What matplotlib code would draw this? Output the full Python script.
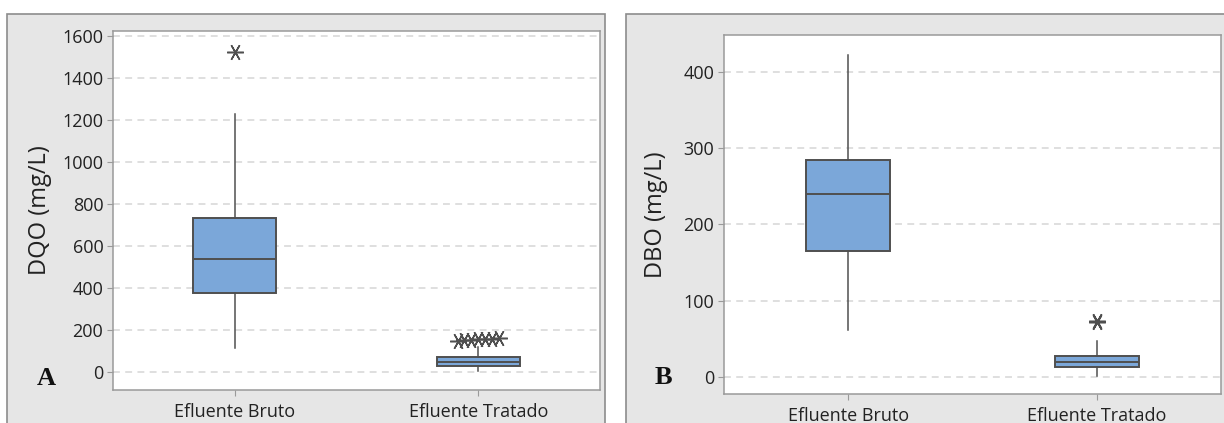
import numpy as np
import matplotlib.pyplot as plt
from matplotlib.patches import Rectangle

plt.rcParams['font.family'] = ['Open Sans', 'DejaVu Sans']

groups = ['Efluente Bruto', 'Efluente Tratado']

# DQO (mg/L): whisker low, Q1, median, Q3, whisker high
dqo_whislo = [115, 5]
dqo_q1 = [375, 28]
dqo_med = [540, 45]
dqo_q3 = [735, 72]
dqo_whishi = [1230, 120]
dqo_fliers = [[1525], [148, 150, 152, 155, 156, 158, 160]]

# DBO (mg/L)
dbo_whislo = [62, 1]
dbo_q1 = [165, 13]
dbo_med = [240, 20]
dbo_q3 = [285, 28]
dbo_whishi = [422, 48]
dbo_fliers = [[], [72, 74]]

box_color = '#7BA7D9'
edge_color = '#4F4F4F'
panel_bg = '#E6E6E6'


def make_stats(lo, q1, med, q3, hi):
    return [dict(whislo=lo[i], q1=q1[i], med=med[i], q3=q3[i], whishi=hi[i],
                 fliers=[], label=groups[i]) for i in range(len(groups))]


def draw_panel(ax, stats, fliers, ylabel, ylim, yticks, letter, lab_x, let_xy):
    ax.bxp(stats, positions=[1, 2], widths=0.34, patch_artist=True,
           showfliers=False, showcaps=False,
           boxprops=dict(facecolor=box_color, edgecolor=edge_color, linewidth=1.4),
           medianprops=dict(color=edge_color, linewidth=1.4),
           whiskerprops=dict(color=edge_color, linewidth=1.1))
    # outliers drawn as asterisks, spread sideways when several share a value
    for i, vals in enumerate(fliers):
        if not vals:
            continue
        n = len(vals)
        offs = np.linspace(-0.085, 0.085, n) if n > 2 else np.zeros(n)
        ax.plot(np.full(n, i + 1) + offs, vals, linestyle='none',
                marker=(6, 2, 90), markersize=12, color=edge_color,
                markeredgewidth=1.1)
    ax.set_xlim(0.5, 2.5)
    ax.set_ylim(*ylim)
    ax.set_yticks(yticks)
    ax.set_xticks([1, 2])
    ax.set_xticklabels(groups)
    ax.yaxis.grid(True, linestyle=(0, (4.5, 3.5)), color='#D6D6D6', linewidth=1.1)
    ax.set_axisbelow(True)
    ax.set_facecolor('white')
    for s in ax.spines.values():
        s.set_color('#9A9A9A')
        s.set_linewidth(1.1)
    ax.tick_params(axis='both', color='#9A9A9A', length=4, labelcolor='#222222')
    ax.tick_params(axis='y', labelsize=13, pad=3)
    ax.tick_params(axis='x', labelsize=13, pad=5)
    ax.set_ylabel(ylabel, fontsize=17, color='#222222')
    ax.yaxis.set_label_coords(lab_x, 0.5)
    ax.text(let_xy[0], let_xy[1], letter, transform=ax.transAxes, fontsize=19,
            fontweight='bold', family='Liberation Serif', color='#111111',
            ha='center', va='center')


fig = plt.figure(figsize=(12.24, 4.23), dpi=100)

# gray panel backgrounds with frame
for x0, x1 in [(7, 605), (626, 1232)]:
    fig.patches.append(Rectangle((x0 / 1224, -0.02), (x1 - x0) / 1224,
                                 1 - 14 / 423 + 0.02, transform=fig.transFigure,
                                 facecolor=panel_bg, edgecolor='#8C8C8C',
                                 linewidth=1.2, zorder=-5))

ax1 = fig.add_axes([113 / 1224, 1 - 390 / 423, 487 / 1224, 359 / 423])
ax2 = fig.add_axes([724 / 1224, 1 - 394 / 423, 497 / 1224, 359 / 423])

draw_panel(ax1, make_stats(dqo_whislo, dqo_q1, dqo_med, dqo_q3, dqo_whishi),
           dqo_fliers, 'DQO (mg/L)', (-86, 1624), np.arange(0, 1601, 200), 'A',
           -0.126, (-0.136, 0.033))
draw_panel(ax2, make_stats(dbo_whislo, dbo_q1, dbo_med, dbo_q3, dbo_whishi),
           dbo_fliers, 'DBO (mg/L)', (-22, 448), np.arange(0, 401, 100), 'B',
           -0.113, (-0.121, 0.045))

fig.savefig('out.png', dpi=100)
